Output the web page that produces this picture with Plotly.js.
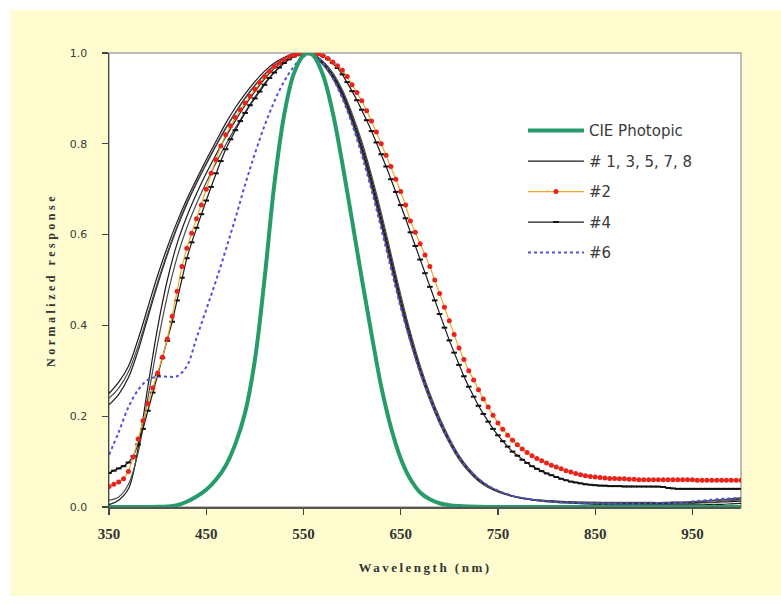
<!DOCTYPE html>
<html>
<head>
<meta charset="utf-8">
<script src="https://cdn.plot.ly/plotly-3.0.1.min.js"></script>
<style>
  html, body { margin: 0; padding: 0; background: #ffffff; }
  #chart { width: 781px; height: 604px; }
  .xtitle { letter-spacing: 2.5px; }
  .ytitle { letter-spacing: 3.5px; }
</style>
</head>
<body>
<div id="chart"></div>
<script>
// ---- Wavelength grids (nm) ----
const wl5 = [
  350,355,360,365,370,375,380,385,390,395,
  400,405,410,415,420,425,430,435,440,445,
  450,455,460,465,470,475,480,485,490,495,
  500,505,510,515,520,525,530,535,540,545,
  550,555,560,565,570,575,580,585,590,595,
  600,605,610,615,620,625,630,635,640,645,
  650,655,660,665,670,675,680,685,690,695,
  700,705,710,715,720,725,730,735,740,745,
  750,755,760,765,770,775,780,785,790,795,
  800,805,810,815,820,825,830,835,840,845,
  850,855,860,865,870,875,880,885,890,895,
  900,905,910,915,920,925,930,935,940,945,
  950,955,960,965,970,975,980,985,990,995,
  1000];

const wl10 = [
  350,360,370,380,390,400,410,420,430,440,
  450,460,470,480,490,500,510,520,530,540,
  550,560,570,580,590,600,610,620,630,640,
  650,660,670,680,690,700,710,720,730,740,
  750,760,770,780,790,800,810,820,830,840,
  850,860,870,880,890,900,910,920,930,940,
  950,960,970,980,990,1000];

const wlCIE = [
  350,360,370,380,390,400,410,420,430,440,
  450,460,470,480,490,500,510,520,530,540,
  550,555,560,570,580,590,600,610,620,630,
  640,650,660,670,680,690,700,710,720,730,
  740,750,760,770,780,800,850,900,950,1000];

// ---- CIE photopic V(lambda) ----
const cie = [
  0,0.000004,0.000012,0.000039,0.00012,0.000396,0.00121,0.004,0.0116,0.023,
  0.038,0.06,0.091,0.139,0.208,0.323,0.503,0.71,0.862,0.954,
  0.995,1.0,0.995,0.952,0.87,0.757,0.631,0.503,0.381,0.265,
  0.175,0.107,0.061,0.032,0.017,0.0082,0.0041,0.0021,0.00105,0.00052,
  0.00025,0.00012,0.00006,0.00003,0.000015,0,0,0,0,0];

// ---- Detectors #1, 3, 5, 7, 8 (10 nm) ----
const det1 = [
  0.250,0.275,0.310,0.370,0.440,0.510,0.572,0.628,0.678,0.722,
  0.765,0.805,0.845,0.880,0.910,0.937,0.960,0.978,0.990,0.998,
  1.000,0.995,0.978,0.950,0.910,0.855,0.790,0.714,0.630,0.540,
  0.450,0.370,0.300,0.240,0.188,0.145,0.108,0.080,0.059,0.044,
  0.034,0.027,0.021,0.018,0.015,0.013,0.012,0.011,0.010,0.010,
  0.009,0.009,0.009,0.008,0.008,0.008,0.008,0.008,0.008,0.009,
  0.009,0.010,0.010,0.011,0.012,0.013];
const det3 = [
  0.225,0.248,0.285,0.345,0.418,0.490,0.556,0.615,0.667,0.713,
  0.755,0.795,0.833,0.868,0.900,0.928,0.953,0.972,0.987,0.996,
  1.000,0.994,0.976,0.947,0.906,0.851,0.786,0.710,0.626,0.537,
  0.448,0.368,0.298,0.238,0.186,0.143,0.106,0.079,0.058,0.044,
  0.034,0.027,0.022,0.018,0.016,0.014,0.013,0.012,0.011,0.010,
  0.010,0.009,0.009,0.009,0.009,0.009,0.009,0.009,0.010,0.010,
  0.011,0.012,0.014,0.016,0.018,0.020];
const det5 = [
  0.005,0.015,0.040,0.130,0.265,0.395,0.500,0.580,0.640,0.690,
  0.735,0.776,0.815,0.851,0.885,0.915,0.943,0.966,0.984,0.995,
  1.000,0.996,0.980,0.953,0.914,0.861,0.798,0.723,0.640,0.550,
  0.460,0.378,0.306,0.245,0.192,0.148,0.111,0.082,0.060,0.045,
  0.034,0.027,0.021,0.017,0.014,0.012,0.010,0.009,0.008,0.007,
  0.006,0.006,0.005,0.005,0.005,0.005,0.005,0.005,0.005,0.005,
  0.005,0.005,0.006,0.006,0.007,0.008];
const det7 = [
  0.240,0.262,0.298,0.355,0.425,0.495,0.560,0.618,0.670,0.715,
  0.757,0.797,0.835,0.869,0.901,0.929,0.953,0.973,0.988,0.997,
  1.000,0.993,0.974,0.944,0.902,0.846,0.780,0.703,0.619,0.530,
  0.442,0.363,0.294,0.235,0.184,0.141,0.105,0.078,0.057,0.043,
  0.033,0.026,0.021,0.017,0.015,0.013,0.012,0.011,0.010,0.010,
  0.010,0.010,0.010,0.010,0.010,0.010,0.010,0.010,0.011,0.011,
  0.012,0.013,0.014,0.015,0.016,0.017];
const det8 = [
  0.015,0.022,0.050,0.120,0.240,0.360,0.465,0.550,0.615,0.668,
  0.715,0.758,0.798,0.835,0.870,0.903,0.933,0.958,0.978,0.992,
  0.999,0.997,0.982,0.957,0.919,0.867,0.805,0.731,0.648,0.558,
  0.468,0.385,0.312,0.250,0.197,0.152,0.114,0.085,0.063,0.047,
  0.036,0.028,0.022,0.018,0.015,0.013,0.011,0.010,0.009,0.008,
  0.007,0.007,0.006,0.006,0.006,0.006,0.006,0.006,0.007,0.007,
  0.008,0.009,0.010,0.012,0.014,0.016];

// ---- Detector #2 (5 nm) ----
const det2 = [
  0.045,0.050,0.055,0.062,0.078,0.110,0.150,0.190,0.228,0.262,
  0.295,0.330,0.370,0.420,0.475,0.530,0.570,0.603,0.635,0.665,
  0.700,0.735,0.765,0.795,0.820,0.840,0.858,0.875,0.890,0.905,
  0.920,0.935,0.948,0.960,0.970,0.978,0.985,0.991,0.995,0.998,
  1.000,1.000,1.000,0.998,0.994,0.988,0.980,0.972,0.962,0.948,
  0.930,0.913,0.895,0.873,0.850,0.826,0.800,0.775,0.750,0.722,
  0.695,0.665,0.630,0.605,0.580,0.555,0.530,0.500,0.470,0.440,
  0.410,0.380,0.350,0.325,0.300,0.280,0.258,0.238,0.220,0.202,
  0.185,0.171,0.158,0.147,0.137,0.128,0.120,0.113,0.107,0.102,
  0.097,0.092,0.088,0.084,0.080,0.077,0.074,0.071,0.069,0.067,
  0.066,0.065,0.064,0.063,0.063,0.062,0.062,0.061,0.061,0.060,
  0.060,0.060,0.060,0.060,0.060,0.060,0.060,0.060,0.060,0.060,
  0.060,0.059,0.059,0.059,0.059,0.059,0.059,0.059,0.059,0.059,
  0.059];

// ---- Detector #4 (5 nm) ----
const det4 = [
  0.075,0.080,0.085,0.090,0.098,0.112,0.138,0.172,0.212,0.252,
  0.290,0.328,0.366,0.408,0.455,0.505,0.548,0.583,0.615,0.645,
  0.675,0.705,0.735,0.762,0.788,0.810,0.830,0.850,0.868,0.885,
  0.900,0.915,0.930,0.945,0.957,0.968,0.978,0.986,0.992,0.996,
  0.999,1.000,1.000,0.998,0.994,0.987,0.978,0.967,0.953,0.936,
  0.916,0.896,0.875,0.852,0.828,0.803,0.777,0.750,0.722,0.694,
  0.665,0.636,0.605,0.575,0.545,0.515,0.485,0.455,0.425,0.395,
  0.367,0.340,0.313,0.288,0.265,0.243,0.223,0.205,0.188,0.172,
  0.158,0.145,0.133,0.122,0.113,0.104,0.097,0.090,0.084,0.079,
  0.074,0.070,0.066,0.062,0.059,0.056,0.054,0.052,0.050,0.049,
  0.048,0.047,0.047,0.046,0.046,0.046,0.045,0.045,0.045,0.045,
  0.045,0.045,0.045,0.045,0.044,0.042,0.041,0.040,0.040,0.040,
  0.040,0.040,0.040,0.040,0.040,0.040,0.040,0.040,0.040,0.040,
  0.040];

// ---- Detector #6 (10 nm) ----
const det6 = [
  0.115,0.165,0.220,0.258,0.280,0.287,0.287,0.288,0.310,0.372,
  0.435,0.498,0.566,0.636,0.710,0.778,0.840,0.893,0.937,0.970,
  0.992,0.998,0.978,0.945,0.900,0.843,0.775,0.698,0.613,0.525,
  0.440,0.364,0.297,0.240,0.188,0.146,0.110,0.083,0.062,0.047,
  0.036,0.028,0.022,0.018,0.015,0.013,0.011,0.010,0.009,0.008,
  0.008,0.007,0.007,0.007,0.007,0.007,0.008,0.008,0.009,0.010,
  0.012,0.014,0.016,0.018,0.019,0.020];

// ---- Labels ----
const seriesNames = ["CIE Photopic", "# 1, 3, 5, 7, 8", "#2", "#4", "#6"];
const xTickVals = [350, 450, 550, 650, 750, 850, 950];
const xTickText = ["350", "450", "550", "650", "750", "850", "950"];
const yTickVals = [0, 0.2, 0.4, 0.6, 0.8, 1.0];
const yTickText = ["0.0", "0.2", "0.4", "0.6", "0.8", "1.0"];
const xTitle = "Wavelength (nm)";
const yTitle = "Normalized response";

const groupLine = { color: "#1c1c1c", width: 1.2, shape: "spline" };
const groupTraces = [det1, det3, det5, det7, det8].map((ys, i) => ({
  type: "scatter", mode: "lines", x: wl10, y: ys,
  name: seriesNames[1], legendgroup: "g1", legendrank: 2,
  showlegend: i === 0,
  line: Object.assign({}, groupLine, i >= 3 ? { color: "#4a4a4a" } : {}),
  hoverinfo: "skip"
}));

const data = groupTraces.concat([
  { type: "scatter", mode: "lines", x: wl10, y: det6, name: seriesNames[4],
    legendgroup: "g6", legendrank: 5,
    line: { color: "#5050d8", width: 2, dash: "dot", shape: "spline" } },
  { type: "scatter", mode: "lines+markers", x: wl5, y: det4, name: seriesNames[3],
    legendgroup: "g4", legendrank: 4,
    line: { color: "#1a1a1a", width: 1.2 },
    marker: { symbol: "line-ew", size: 4, color: "#111", line: { width: 2, color: "#111" } } },
  { type: "scatter", mode: "lines+markers", x: wl5, y: det2, name: seriesNames[2],
    legendgroup: "g2", legendrank: 3,
    line: { color: "#f5a623", width: 1.2 },
    marker: { symbol: "circle", size: 5, color: "#e8231c" } },
  { type: "scatter", mode: "lines", x: wlCIE, y: cie, name: seriesNames[0],
    legendgroup: "g0", legendrank: 1,
    line: { color: "#259c6a", width: 4, shape: "spline" } }
]);

const layout = {
  width: 781, height: 604, autosize: false,
  margin: { l: 109, r: 40, t: 53, b: 97, pad: 0 },
  paper_bgcolor: "#ffffff", plot_bgcolor: "#ffffff",
  showlegend: true,
  legend: {
    x: 0.655, y: 0.865, xanchor: "left", yanchor: "top",
    bgcolor: "rgba(0,0,0,0)", borderwidth: 0,
    font: { family: "DejaVu Sans, Verdana, sans-serif", size: 15, color: "#3a3a3a" },
    itemwidth: 56, tracegroupgap: 8, traceorder: "grouped"
  },
  xaxis: {
    range: [350, 1000], autorange: false,
    tickmode: "array", tickvals: xTickVals, ticktext: xTickText,
    ticks: "outside", ticklen: 6, tickwidth: 1.2, tickcolor: "#444",
    ticklabelstandoff: 6,
    showline: true, linecolor: "#555", linewidth: 1.5,
    showgrid: false, zeroline: false, layer: "below traces",
    tickfont: { family: "Liberation Serif, Times New Roman, serif", size: 15, weight: "bold", color: "#333" },
    title: { text: xTitle, standoff: 22,
      font: { family: "Liberation Serif, Times New Roman, serif", size: 13, weight: "bold", color: "#333" } }
  },
  yaxis: {
    range: [0, 1.0], autorange: false,
    tickmode: "array", tickvals: yTickVals, ticktext: yTickText,
    ticks: "outside", ticklen: 6, tickwidth: 1.2, tickcolor: "#444",
    ticklabelstandoff: 12,
    showline: true, linecolor: "#444", linewidth: 1.5,
    showgrid: false, zeroline: false, layer: "below traces",
    tickfont: { family: "DejaVu Sans, Verdana, sans-serif", size: 11, color: "#3a3a3a" },
    title: { text: yTitle, standoff: 11,
      font: { family: "Liberation Serif, Times New Roman, serif", size: 12, weight: "bold", color: "#333" } }
  },
  shapes: [
    { type: "rect", xref: "paper", yref: "paper", layer: "below",
      x0: -0.1566, x1: 1.1, y0: -0.196, y1: 1.0947,
      fillcolor: "#fffdd0", line: { width: 0 } },
    { type: "rect", xref: "paper", yref: "paper", layer: "below",
      x0: 0, x1: 1, y0: 0, y1: 1,
      fillcolor: "#ffffff", line: { color: "#a6a6a6", width: 1.5 } }
  ]
};

Plotly.newPlot("chart", data, layout, { displayModeBar: false, staticPlot: true });
</script>
</body>
</html>
